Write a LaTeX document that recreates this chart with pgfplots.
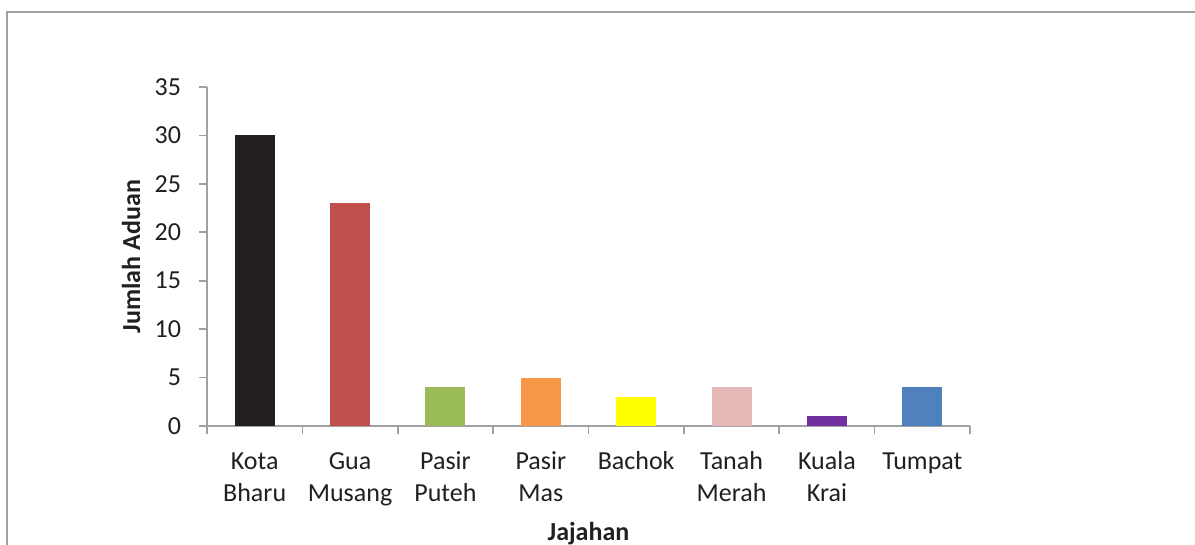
\documentclass[border=0pt]{standalone}
\usepackage{pgfplots}
\pgfplotsset{compat=1.18}
\usepackage{fontspec}
\setmainfont{Carlito}
\definecolor{axgray}{RGB}{160,160,165}
\definecolor{txt}{RGB}{35,31,32}
\definecolor{c1}{RGB}{35,31,32}
\definecolor{c2}{RGB}{192,80,77}
\definecolor{c3}{RGB}{155,187,89}
\definecolor{c4}{RGB}{247,150,70}
\definecolor{c5}{RGB}{255,255,0}
\definecolor{c6}{RGB}{230,185,184}
\definecolor{c7}{RGB}{112,48,160}
\definecolor{c8}{RGB}{79,129,189}
\begin{document}
\fontsize{13bp}{16bp}\selectfont
\begin{tikzpicture}
\useasboundingbox (0,0) rectangle (597.5bp,272.5bp);
\draw[axgray, line width=1bp] (3.5bp,-2bp) -- (3.5bp,266.5bp) -- (600bp,266.5bp);
\begin{axis}[
  at={(103.5bp,59.5bp)}, anchor=south west,
  scale only axis, width=381.5bp, height=169.5bp,
  xmin=-0.5, xmax=7.5, ymin=0, ymax=35,
  axis lines*=left,
  axis line style={axgray, line width=0.8bp},
  tick style={axgray, line width=0.8bp},
  tick align=outside,
  major tick length=4bp, minor tick length=4bp,
  ytick={0,5,...,35},
  xtick={0,...,7},
  minor xtick={-0.5,0.5,...,7.5},
  major x tick style={draw=none},
  xticklabels={\strut Kota\\Bharu, \strut Gua\\Musang, \strut Pasir\\Puteh, \strut Pasir\\Mas, \strut Bachok, \strut Tanah\\Merah, \strut Kuala\\Krai, \strut Tumpat},
  xticklabel style={align=center, font=\fontsize{13bp}{16bp}\selectfont, text=txt, anchor=north, yshift=-2bp},
  yticklabel style={font=\fontsize{13bp}{16bp}\selectfont, text=txt, xshift=-4.5bp},
  /pgf/number format/assume math mode=true,
  xlabel={\textbf{Jajahan}},
  ylabel={\textbf{Jumlah Aduan}},
  xlabel style={at={(axis description cs:0.5,0)}, anchor=base, yshift=-57bp, font=\fontsize{13bp}{16bp}\selectfont, text=txt},
  ylabel style={at={(axis description cs:0,0.5)}, anchor=center, rotate=0, yshift=38bp, font=\fontsize{13bp}{16bp}\selectfont, text=txt},
  ybar, bar width=20bp, bar shift=0pt,
]
\addplot[fill=c1, draw=none] coordinates {(0,30)};
\addplot[fill=c2, draw=none] coordinates {(1,23)};
\addplot[fill=c3, draw=none] coordinates {(2,4)};
\addplot[fill=c4, draw=none] coordinates {(3,5)};
\addplot[fill=c5, draw=none] coordinates {(4,3)};
\addplot[fill=c6, draw=none] coordinates {(5,4)};
\addplot[fill=c7, draw=none] coordinates {(6,1)};
\addplot[fill=c8, draw=none] coordinates {(7,4)};
\end{axis}
\end{tikzpicture}
\end{document}
